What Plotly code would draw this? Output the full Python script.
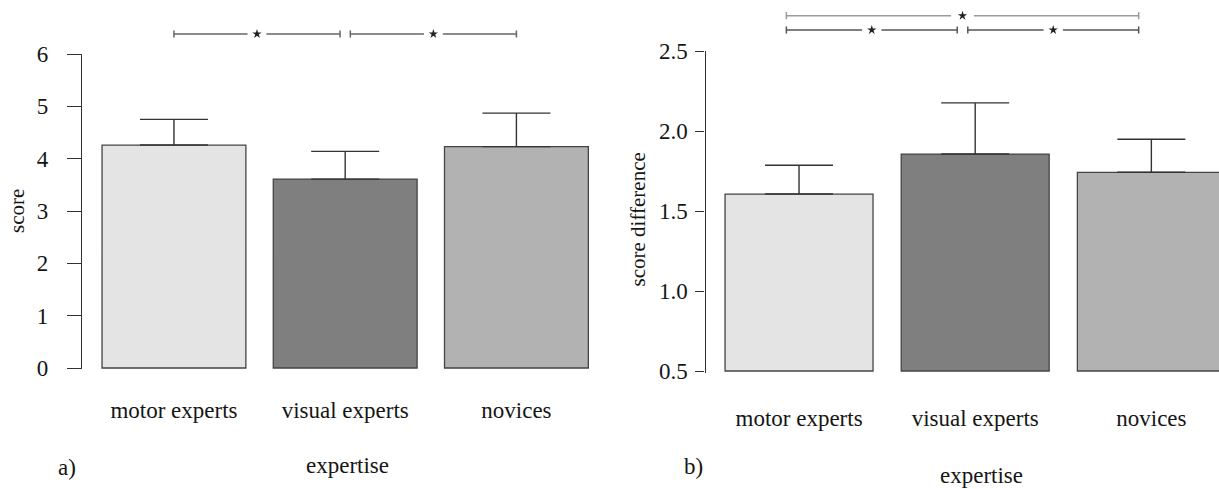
import plotly.graph_objects as go

# ---------------- data ----------------
categories = ["motor experts", "visual experts", "novices"]
score_mean = [4.26, 3.61, 4.23]
score_err = [0.49, 0.53, 0.64]
diff_mean = [1.606, 1.856, 1.742]
diff_err = [0.18, 0.32, 0.206]
diff_base = 0.5
score_ticks = [0, 1, 2, 3, 4, 5, 6]
diff_ticks = [0.5, 1.0, 1.5, 2.0, 2.5]
diff_ticktext = ["0.5", "1.0", "1.5", "2.0", "2.5"]
bar_colors = ["#e4e4e4", "#7f7f7f", "#b2b2b2"]
# significance brackets: (from category, to category, level, label)
score_sig = [(0, 1, 1, "*"), (1, 2, 1, "*")]
diff_sig = [(0, 1, 1, "*"), (1, 2, 1, "*"), (0, 2, 2, "*")]

# ---------------- layout helpers ----------------
W, H = 1219, 489
FONT = "Liberation Serif, Times New Roman, serif"
TXT = "#151515"


def px_x(p):
    return p / W


def px_y(p):
    return 1 - p / H


xpos = list(range(len(categories)))
fig = go.Figure()

# bars
fig.add_trace(go.Bar(
    x=xpos, y=score_mean, marker=dict(color=bar_colors, line=dict(color="#444", width=1.3)),
    error_y=dict(type="data", symmetric=False, array=score_err, arrayminus=[0] * 3,
                 color="#333", thickness=1.4, width=34),
    xaxis="x", yaxis="y", showlegend=False))
fig.add_trace(go.Bar(
    x=xpos, y=[m - diff_base for m in diff_mean], base=diff_base,
    marker=dict(color=bar_colors, line=dict(color="#444", width=1.3)),
    error_y=dict(type="data", symmetric=False, array=diff_err, arrayminus=[0] * 3,
                 color="#333", thickness=1.4, width=34),
    xaxis="x3", yaxis="y3", showlegend=False))


def add_brackets(sig, xa, ya, shift, colors):
    ends = {}
    for a, b, lev, lab in sig:
        ends.setdefault(lev, []).append((a, b))
    gap_shared = 0.03
    for a, b, lev, lab in sig:
        same = ends[lev]
        x0 = a + shift + (gap_shared if any(bb == a for _, bb in same) else 0)
        x1 = b + shift - (gap_shared if any(aa == b for aa, _ in same) else 0)
        xm = (x0 + x1) / 2
        g = 0.055 if lev == 1 else 0.065
        col = colors[lev]
        for seg in ([x0, xm - g], [xm + g, x1]):
            fig.add_trace(go.Scatter(x=seg, y=[lev, lev], mode="lines",
                                     line=dict(color=col, width=1.5),
                                     xaxis=xa, yaxis=ya, showlegend=False, hoverinfo="skip"))
        for xe in (x0, x1):
            fig.add_trace(go.Scatter(x=[xe, xe], y=[lev - 0.25, lev + 0.25], mode="lines",
                                     line=dict(color=col, width=1.5),
                                     xaxis=xa, yaxis=ya, showlegend=False, hoverinfo="skip"))
        fig.add_trace(go.Scatter(x=[xm], y=[lev], mode="markers",
                                 marker=dict(symbol="star", size=7, color="#222"),
                                 xaxis=xa, yaxis=ya, showlegend=False, hoverinfo="skip"))


add_brackets(score_sig, "x2", "y2", 0.0, {1: "#666666"})
add_brackets(diff_sig, "x4", "y4", -0.072, {1: "#555555", 2: "#9a9a9a"})

xcommon = dict(showgrid=False, zeroline=False, showline=False, ticks="",
               tickfont=dict(family=FONT, size=23, color=TXT), automargin=False)
ycommon = dict(showgrid=False, zeroline=False, showline=True, linecolor="#333", linewidth=1.3,
               ticks="outside", tickcolor="#333", tickwidth=1.3,
               tickfont=dict(family=FONT, size=23, color=TXT), automargin=False)
hidden = dict(visible=False, showgrid=False, zeroline=False, fixedrange=True)

fig.update_layout(
    width=W, height=H,
    margin=dict(l=0, r=0, t=0, b=0),
    paper_bgcolor="white", plot_bgcolor="white",
    bargap=0.16,
    font=dict(family=FONT, color=TXT),
    xaxis=dict(domain=[px_x(82), px_x(610.6)], range=[-0.537, 2.55], anchor="y",
               tickvals=xpos, ticktext=categories, ticklabelstandoff=25, **xcommon),
    yaxis=dict(domain=[px_y(369.05), px_y(54)], range=[-0.02, 6], anchor="x",
               tickvals=score_ticks, ticklen=14, ticklabelstandoff=14, **ycommon),
    xaxis2=dict(domain=[px_x(82), px_x(610.6)], range=[-0.537, 2.55], anchor="y2",
                matches="x", **hidden),
    yaxis2=dict(domain=[px_y(54), 1], range=[-0.399, 3.377], anchor="x2", **hidden),
    xaxis3=dict(domain=[px_x(705.5), 1], range=[-0.531, 2.384], anchor="y3",
                tickvals=xpos, ticktext=categories, ticklabelstandoff=29, **xcommon),
    yaxis3=dict(domain=[px_y(372.6), px_y(51)], range=[0.49, 2.5], anchor="x3",
                tickvals=diff_ticks, ticktext=diff_ticktext, ticklen=9, ticklabelstandoff=3,
                **ycommon),
    xaxis4=dict(domain=[px_x(705.5), 1], range=[-0.531, 2.384], anchor="y4",
                matches="x3", **hidden),
    yaxis4=dict(domain=[px_y(51), 1], range=[-0.469, 3.097], anchor="x4", **hidden),
)

annots = [
    ("score", 17, 211, -90, 21),
    ("score difference", 637, 219.5, -90, 21),
    ("expertise", 347, 465, 0, 23),
    ("expertise", 982, 475, 0, 23),
    ("a)", 67, 467, 0, 23),
    ("b)", 693, 466, 0, 23),
]
for text, x, y, ang, sz in annots:
    fig.add_annotation(text=text, x=px_x(x), y=px_y(y), xref="paper", yref="paper",
                       xanchor="center", yanchor="middle", showarrow=False, textangle=ang,
                       font=dict(family=FONT, size=sz, color=TXT))

# remove the default page margin so the figure sits at the window's top-left corner
fig.write_html("out.html",
               config={"displayModeBar": False},
               post_script="document.body.style.margin='0';document.body.style.overflow='hidden';")
